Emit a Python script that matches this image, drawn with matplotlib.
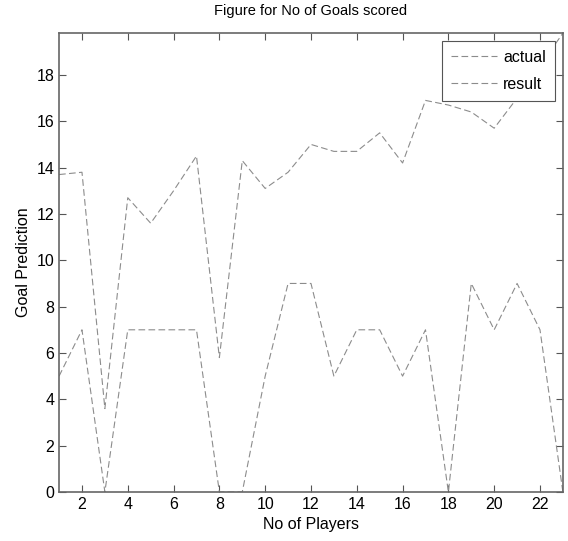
import matplotlib.pyplot as plt

plt.rcParams['font.family'] = ['Liberation Sans', 'DejaVu Sans']

# Данные: номер игрока, фактические голы и прогноз
players = list(range(1, 24))
actual = [13.7, 13.8, 3.6, 12.7, 11.6, 13.0, 14.5, 5.8, 14.3, 13.1, 13.8, 15.0,
          14.7, 14.7, 15.5, 14.2, 16.9, 16.7, 16.4, 15.7, 17.0, 18.4, 19.8]
result = [5, 7, 0, 7, 7, 7, 7, 0, 0, 5, 9, 9, 5, 7, 7, 5, 7, 0, 9, 7, 9, 7, 0]
xticks = list(range(2, 23, 2))
yticks = list(range(0, 19, 2))

fig = plt.figure(figsize=(5.68, 5.41), dpi=100)
ax = fig.add_axes([0.104, 0.0906, 0.887, 0.848])

ax.plot(players, actual, '--', color='#8c8c8c', lw=0.8, dashes=(6, 3), label='actual')
ax.plot(players, result, '--', color='#8c8c8c', lw=0.8, dashes=(6, 3), label='result')

ax.set_xlim(1, 23)
ax.set_ylim(0, 19.8)
ax.set_xticks(xticks)
ax.set_yticks(yticks)
ax.tick_params(direction='in', top=True, right=True, labelsize=11.5, length=5, color='#555555')
for s in ax.spines.values():
    s.set_color('#666666')
    s.set_linewidth(1.2)
    s.set_zorder(3)

ax.set_title('Figure for No of Goals scored', fontsize=10.5, pad=13)
ax.set_xlabel('No of Players', fontsize=11.5)
ax.set_ylabel('Goal Prediction', fontsize=11.5)

# Легенда в правом верхнем углу, рамка без скруглений
leg = ax.legend(loc='upper right', fontsize=11.5, fancybox=False, handlelength=2.9,
                handletextpad=0.4, labelspacing=0.75, borderaxespad=0.5,
                framealpha=1, borderpad=0.55)
leg.get_frame().set_edgecolor('#555555')
leg.get_frame().set_linewidth(0.8)

plt.savefig('out.png', dpi=100)
